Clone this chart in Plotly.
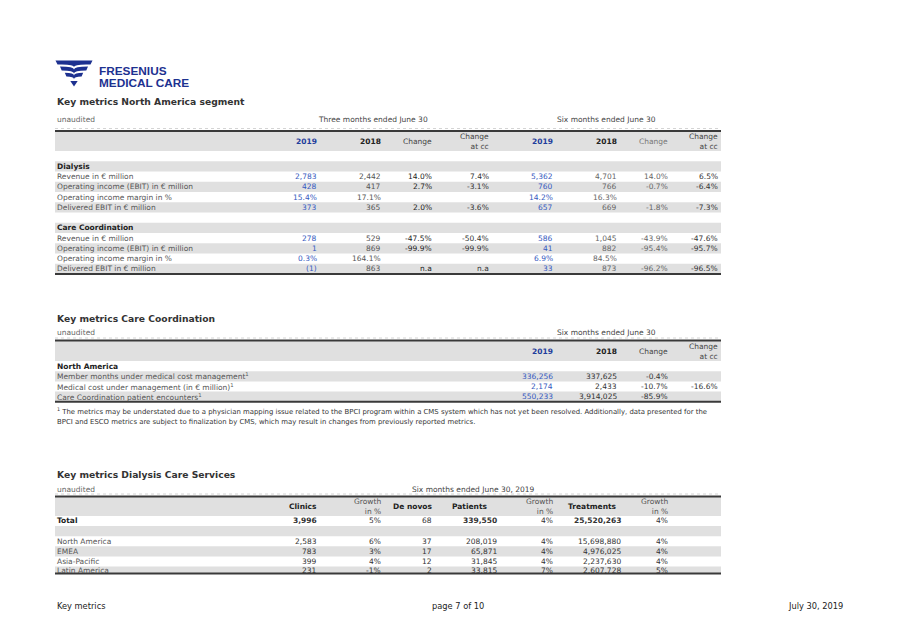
import plotly.graph_objects as go

W, H = 897, 635
PAGE_PAD = 8  # default <body> margin of the html page
FONT = "DejaVu Sans, Verdana, sans-serif"
FOOT_FONT = "DejaVu Sans Condensed, DejaVu Sans, sans-serif"
LOGO_FONT = "Liberation Sans, Arial, sans-serif"
LOGO_BLUE = "#1d3190"
BLUE_HEAD = "#1f3d9c"
BLUE_VAL = "#3559c0"
STRIPE = "#e0e0e0"

# ---- Key metrics North America segment
na_labels = ["", "Dialysis", "Revenue in € million", "Operating income (EBIT) in € million",
             "Operating income margin in %", "Delivered EBIT in € million", "",
             "Care Coordination", "Revenue in € million", "Operating income (EBIT) in € million",
             "Operating income margin in %", "Delivered EBIT in € million"]
na_kind = ["blank", "section", "num", "num", "pct", "num",
           "blank", "section", "num", "num", "pct", "num"]
q2_2019 = [None, None, 2783, 428, 15.4, 373, None, None, 278, 1, 0.3, -1]
q2_2018 = [None, None, 2442, 417, 17.1, 365, None, None, 529, 869, 164.1, 863]
q2_change = [None, None, 14.0, 2.7, None, 2.0, None, None, -47.5, -99.9, None, "n.a"]
q2_change_cc = [None, None, 7.4, -3.1, None, -3.6, None, None, -50.4, -99.9, None, "n.a"]
h1_2019 = [None, None, 5362, 760, 14.2, 657, None, None, 586, 41, 6.9, 33]
h1_2018 = [None, None, 4701, 766, 16.3, 669, None, None, 1045, 882, 84.5, 873]
h1_change = [None, None, 14.0, -0.7, None, -1.8, None, None, -43.9, -95.4, None, -96.2]
h1_change_cc = [None, None, 6.5, -6.4, None, -7.3, None, None, -47.6, -95.7, None, -96.5]

# ---- Key metrics Care Coordination
cc_labels = ["North America", "Member months under medical cost management",
             "Medical cost under management (in € million)", "Care Coordination patient encounters"]
cc_footnoted = [False, True, True, True]
cc_2019 = [None, 336256, 2174, 550233]
cc_2018 = [None, 337625, 2433, 3914025]
cc_change = [None, -0.4, -10.7, -85.9]
cc_change_cc = [None, None, -16.6, None]
footnote_lines = [
    "<sup>1</sup> The metrics may be understated due to a physician mapping issue related to the BPCI "
    "program within a CMS system which has not yet been resolved. Additionally, data presented for the",
    "BPCI and ESCO metrics are subject to finalization by CMS, which may result in changes from "
    "previously reported metrics.",
]

# ---- Key metrics Dialysis Care Services
dcs_regions = ["Total", "", "North America", "EMEA", "Asia-Pacific", "Latin America"]
clinics = [3996, None, 2583, 783, 399, 231]
clinics_growth = [5, None, 6, 3, 4, -1]
de_novos = [68, None, 37, 17, 12, 2]
patients = [339550, None, 208019, 65871, 31845, 33815]
patients_growth = [4, None, 4, 4, 4, 7]
treatments = [25520263, None, 15698880, 4976025, 2237630, 2607728]
treatments_growth = [4, None, 4, 4, 4, 5]


def fmt(v, kind="num"):
    if v is None:
        return ""
    if isinstance(v, str):
        return v
    if kind == "pct":
        return f"{v:.1f}%"
    if kind == "int_pct":
        return f"{v}%"
    return f"{v:,}" if v >= 0 else f"({-v:,})"


annotations = []
shapes = []


def text(x, y, s, size=7.5, color="#444", anchor="left", bold=False, family=FONT):
    annotations.append(dict(
        x=x, y=y, xref="x", yref="y", text=f"<b>{s}</b>" if bold else s,
        showarrow=False, xanchor=anchor, yanchor="middle", align=anchor,
        borderpad=0, borderwidth=0,
        font=dict(family=family, size=size, color=color),
    ))


def rect(x0, y0, x1, y1, color):
    shapes.append(dict(type="rect", xref="x", yref="y", x0=x0, y0=y0, x1=x1, y1=y1,
                       fillcolor=color, line_width=0, layer="below"))


def hline(y, x0, x1, color="#333", width=2, dash="solid"):
    shapes.append(dict(type="line", xref="x", yref="y", x0=x0, x1=x1, y0=y, y1=y,
                       line=dict(color=color, width=width, dash=dash)))


TX0, TX1 = 55, 721   # table left / right
LX = 57              # label left


def table_frame(top, header_h, row_tops, row_h, grey_rows, bottom):
    hline(top - 2.5, TX0, TX1, "#d4d4d4", 1, "dot")
    rect(TX0, top, TX1, top + header_h, STRIPE)
    for i in grey_rows:
        rect(TX0, row_tops[i], TX1, min(row_tops[i] + row_h, bottom), STRIPE)
    hline(top, TX0, TX1, "#3a3a3a", 2)
    hline(bottom, TX0, TX1, "#3a3a3a", 2)


# ---------------- logo
logo_paths = [
    "M 55.5,60.5 L 92.5,60.5 L 90.5,64.5 Q 74,64 74,67 Q 74,64 57.5,64.5 Z",
    "M 60,66.5 Q 74,66.5 74,69.5 Q 74,66.5 88,66.5 L 86.3,70.5 Q 74,70.5 74,73.5 Q 74,70.5 61.7,70.5 Z",
    "M 64.8,72.8 Q 74,72.8 74,75.6 Q 74,72.8 83.2,72.8 L 81.6,76.6 Q 74,76.6 74,79.3 Q 74,76.6 66.4,76.6 Z",
    "M 70.3,81 L 77.7,81 L 74,86.5 Z",
]
for p in logo_paths:
    shapes.append(dict(type="path", xref="x", yref="y", path=p,
                       fillcolor=LOGO_BLUE, line_width=0))
text(99, 71, "FRESENIUS", 11.8, LOGO_BLUE, bold=True, family=LOGO_FONT)
text(99, 82.5, "MEDICAL CARE", 11.8, LOGO_BLUE, bold=True, family=LOGO_FONT)

# ---------------- table 1: North America segment
text(LX, 101, "Key metrics North America segment", 9.2, "#333", bold=True)
text(LX, 119, "unaudited", 7.5, "#666")
text(373, 119, "Three months ended June 30", 7.5, "#444", anchor="center")
text(606, 119, "Six months ended June 30", 7.5, "#444", anchor="center")

t1_top, t1_head_h, t1_row_h = 131, 20, 10.25
t1_rows = [t1_top + t1_head_h + i * t1_row_h for i in range(len(na_labels))]
t1_bottom = t1_rows[-1] + t1_row_h
table_frame(t1_top, t1_head_h, t1_rows, t1_row_h,
            [i for i in range(len(na_labels)) if i % 2 == 1], t1_bottom)

hy = t1_top + t1_head_h / 2 + 0.5
t1_headers = [
    (317, "2019", BLUE_HEAD, True), (381, "2018", "#222", True),
    (432, "Change", "#444", False), (489, "Change<br>at cc", "#444", False),
    (553, "2019", BLUE_HEAD, True), (617, "2018", "#222", True),
    (668, "Change", "#777", False), (718, "Change<br>at cc", "#444", False),
]
for x, s, c, b in t1_headers:
    text(x, hy, s, 7.5, c, anchor="right", bold=b)

t1_cols = [
    (317, q2_2019, BLUE_VAL, False), (381, q2_2018, "#555", False),
    (432, q2_change, "#222", True), (489, q2_change_cc, "#333", True),
    (553, h1_2019, BLUE_VAL, False), (617, h1_2018, "#666", False),
    (668, h1_change, "#666", True), (718, h1_change_cc, "#333", True),
]
for i, lab in enumerate(na_labels):
    yc = t1_rows[i] + t1_row_h / 2
    if na_kind[i] == "section":
        text(LX, yc, lab, 7.5, "#222", bold=True)
    elif lab:
        text(LX, yc, lab, 7.5, "#555")
    for x, vals, c, is_change in t1_cols:
        kind = "pct" if is_change else na_kind[i]
        s = fmt(vals[i], kind)
        if s:
            text(x, yc, s, 7.5, c, anchor="right")

# ---------------- table 2: Care Coordination
text(LX, 318, "Key metrics Care Coordination", 9.2, "#333", bold=True)
text(LX, 332, "unaudited", 7.5, "#666")
text(606, 332, "Six months ended June 30", 7.5, "#444", anchor="center")

t2_top, t2_head_h, t2_row_h = 340.5, 20.5, 10.2
t2_rows = [t2_top + t2_head_h + i * t2_row_h for i in range(len(cc_labels))]
t2_bottom = t2_rows[-1] + t2_row_h
table_frame(t2_top, t2_head_h, t2_rows, t2_row_h, [1, 3], t2_bottom)

hy = t2_top + t2_head_h / 2 + 0.5
for x, s, c, b in [(553, "2019", BLUE_HEAD, True), (617, "2018", "#222", True),
                   (668, "Change", "#444", False), (718, "Change<br>at cc", "#444", False)]:
    text(x, hy, s, 7.5, c, anchor="right", bold=b)

for i, lab in enumerate(cc_labels):
    yc = t2_rows[i] + t2_row_h / 2
    if i == 0:
        text(LX, yc, lab, 7.5, "#222", bold=True)
    else:
        text(LX, yc, lab + ("<sup>1</sup>" if cc_footnoted[i] else ""), 7.5, "#555")
    for x, vals, c, kind in [(553, cc_2019, BLUE_VAL, "num"), (617, cc_2018, "#333", "num"),
                             (668, cc_change, "#333", "pct"), (718, cc_change_cc, "#333", "pct")]:
        s = fmt(vals[i], kind)
        if s:
            text(x, yc, s, 7.5, c, anchor="right")

for j, line in enumerate(footnote_lines):
    text(LX, 411 + j * 11, line, 6.9, "#333")

# ---------------- table 3: Dialysis Care Services
text(LX, 474, "Key metrics Dialysis Care Services", 9.2, "#333", bold=True)
text(LX, 489, "unaudited", 7.5, "#666")
text(473, 489, "Six months ended June 30, 2019", 7.5, "#444", anchor="center")

t3_top, t3_head_h, t3_row_h = 496.5, 19.5, 10.1
t3_rows = [t3_top + t3_head_h + i * t3_row_h for i in range(len(dcs_regions))]
t3_bottom = 573.5
table_frame(t3_top, t3_head_h, t3_rows, t3_row_h, [1, 3, 5], t3_bottom)

hy = t3_top + t3_head_h / 2 + 0.5
t3_headers = [
    (317, "Clinics", "#222", True), (381, "Growth<br>in %", "#555", False),
    (432, "De novos", "#222", True), (488, "Patients", "#222", True),
    (553, "Growth<br>in %", "#555", False), (617, "Treatments", "#222", True),
    (668, "Growth<br>in %", "#555", False),
]
for x, s, c, b in t3_headers:
    text(x, hy, s, 7.5, c, anchor="right", bold=b)

t3_cols = [
    (317, clinics, "num", True), (381, clinics_growth, "int_pct", False),
    (432, de_novos, "num", False), (497, patients, "num", True),
    (553, patients_growth, "int_pct", False), (621, treatments, "num", True),
    (668, treatments_growth, "int_pct", False),
]
for i, reg in enumerate(dcs_regions):
    yc = t3_rows[i] + 4.8 - 0.5 * (i == len(dcs_regions) - 1)
    total = i == 0
    if reg:
        text(LX, yc, reg, 7.5, "#222" if total else "#555", bold=total)
    for x, vals, kind, bold_total in t3_cols:
        s = fmt(vals[i], kind)
        if s:
            text(x, yc, s, 7.5, "#333", anchor="right", bold=total and bold_total)

# ---------------- footer
text(LX, 605, "Key metrics", 9.2, "#222", family=FOOT_FONT)
text(458, 605, "page 7 of 10", 9.2, "#222", anchor="center", family=FOOT_FONT)
text(843, 605, "July 30, 2019", 9.2, "#222", anchor="right", family=FOOT_FONT)

# the page body adds an 8px margin, so the figure covers page pixels 8..W-8 / 8..H-8
fig = go.Figure(go.Scatter(x=[], y=[], hoverinfo="skip", showlegend=False))
fig.update_layout(
    width=W - 2 * PAGE_PAD, height=H - 2 * PAGE_PAD,
    margin=dict(l=0, r=0, t=0, b=0),
    paper_bgcolor="white", plot_bgcolor="white",
    xaxis=dict(range=[PAGE_PAD, W - PAGE_PAD], visible=False, fixedrange=True),
    yaxis=dict(range=[H - PAGE_PAD, PAGE_PAD], visible=False, fixedrange=True),
    shapes=shapes,
    annotations=annotations,
    showlegend=False,
)
fig.write_html("out.html")
